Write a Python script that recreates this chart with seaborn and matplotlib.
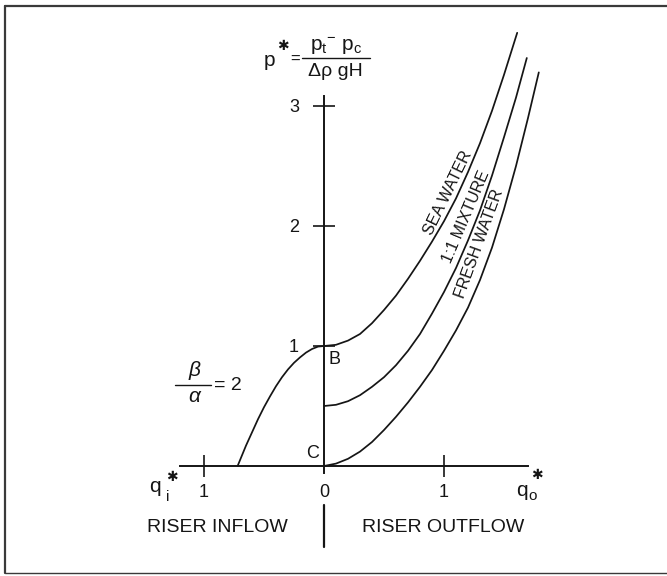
import numpy as np
import pandas as pd
import seaborn as sns
import matplotlib
matplotlib.use("Agg")
import matplotlib.pyplot as plt
from matplotlib.lines import Line2D

# ---------------- data ----------------
inflow_q = [0.0, 0.05, 0.1, 0.15, 0.2, 0.25, 0.3, 0.35, 0.4, 0.45, 0.5, 0.55, 0.6, 0.65, 0.72]  # q_i* (to the left)
inflow_p = [1.0, 0.995, 0.975, 0.945, 0.905, 0.86, 0.805, 0.74, 0.665, 0.58, 0.49, 0.39, 0.28, 0.17, 0.0]

sea_q = [0.0, 0.1, 0.2, 0.3, 0.4, 0.5, 0.6, 0.7, 0.8, 0.9, 1.0, 1.1, 1.2, 1.3, 1.4, 1.5, 1.61]
sea_p = [1.0, 1.01, 1.045, 1.10, 1.19, 1.30, 1.42, 1.56, 1.71, 1.87, 2.04, 2.23, 2.45, 2.69, 2.96, 3.26, 3.61]

mix_q = [0.0, 0.1, 0.2, 0.3, 0.4, 0.5, 0.6, 0.7, 0.8, 0.9, 1.0, 1.1, 1.2, 1.3, 1.4, 1.5, 1.6, 1.69]
mix_p = [0.5, 0.51, 0.54, 0.59, 0.66, 0.74, 0.84, 0.96, 1.10, 1.27, 1.45, 1.65, 1.88, 2.13, 2.42, 2.74, 3.07, 3.40]

fresh_q = [0.0, 0.1, 0.2, 0.3, 0.4, 0.5, 0.6, 0.7, 0.8, 0.9, 1.0, 1.1, 1.2, 1.3, 1.4, 1.5, 1.6, 1.7, 1.79]
fresh_p = [0.0, 0.02, 0.06, 0.12, 0.20, 0.30, 0.41, 0.53, 0.66, 0.80, 0.96, 1.13, 1.32, 1.55, 1.82, 2.14, 2.50, 2.90, 3.28]

curve_names = ["SEA WATER", "1:1 MIXTURE", "FRESH WATER"]
y_ticks = [1, 2, 3]
y_ticklabels = ["1", "2", "3"]
x_ticks = [-1, 0, 1]
x_ticklabels = ["1", "0", "1"]

# ---------------- build a long table ----------------
frames = [pd.DataFrame({"q": [-v for v in inflow_q], "p": inflow_p, "curve": "inflow"}),
          pd.DataFrame({"q": sea_q, "p": sea_p, "curve": "sea"}),
          pd.DataFrame({"q": mix_q, "p": mix_p, "curve": "mix"}),
          pd.DataFrame({"q": fresh_q, "p": fresh_p, "curve": "fresh"})]
df = pd.concat(frames, ignore_index=True)

sns.set_style("white")
plt.rcParams["font.family"] = ["Liberation Sans", "DejaVu Sans"]
plt.rcParams["mathtext.default"] = "regular"

W, H = 667, 576
fig = plt.figure(figsize=(W / 100, H / 100), dpi=100)
ax = fig.add_axes([0, 0, 1, 1])

# pixel geometry of the reference: origin at (324, 466), 120 px per unit
X0, Y0, U = 324.0, 466.0, 120.0
ax.set_xlim((0 - X0) / U, (W - X0) / U)
ax.set_ylim((Y0 - H) / U, (Y0 - 0) / U)

def px(x, y):
    return ((x - X0) / U, (Y0 - y) / U)

ink = "#151515"
for name, sub in df.groupby("curve", sort=False):
    sns.lineplot(data=sub, x="q", y="p", sort=False, estimator=None,
                 color=ink, linewidth=1.25, ax=ax, legend=False)

# axes as spines through the origin
for s in ["top", "right"]:
    ax.spines[s].set_visible(False)
ax.spines["left"].set_position(("data", 0))
ax.spines["bottom"].set_position(("data", 0))
ax.spines["left"].set_bounds(px(0, 473)[1], px(0, 96)[1])
ax.spines["bottom"].set_bounds(px(180, 0)[0], px(528, 0)[0])
for s in ["left", "bottom"]:
    ax.spines[s].set_linewidth(1.4)
    ax.spines[s].set_color(ink)
ax.set_xlabel("")
ax.set_ylabel("")

ax.set_yticks(y_ticks)
ax.set_yticklabels(y_ticklabels)
ax.set_xticks(x_ticks)
ax.set_xticklabels(x_ticklabels)
ax.tick_params(axis="both", direction="inout", length=16, width=1.2, color=ink,
               labelsize=13, labelcolor=ink, left=True, bottom=True)
ax.tick_params(axis="y", pad=10)
ax.tick_params(axis="x", pad=5)
ax.xaxis.get_major_ticks()[1].tick1line.set_visible(False)

# ---------------- annotations ----------------
tk = dict(color=ink, ha="center", va="center")
# axis title p* = (pt - pc)/(Δρ g H)
ax.text(*px(269, 61), "p", fontsize=15, **tk)
ax.text(*px(283, 46), "✱", fontsize=10, family=["DejaVu Sans"], **tk)
ax.text(*px(295, 59), "=", fontsize=12, **tk)
ax.text(*px(336, 46), "p$_t$$^{-}$ p$_c$", fontsize=15, **tk)
ax.add_line(Line2D([px(302, 0)[0], px(370, 0)[0]], [px(0, 57.5)[1]] * 2, color=ink, lw=1.0))
ax.text(*px(335, 72), "Δρ gH", fontsize=14, **tk)

# beta/alpha = 2
ax.text(*px(194, 370), "β", fontsize=15, style="italic", **tk)
ax.add_line(Line2D([px(175, 0)[0], px(211, 0)[0]], [px(0, 385)[1]] * 2, color=ink, lw=1.0))
ax.text(*px(194, 397), "α", fontsize=15, style="italic", **tk)
ax.text(*px(228, 385), "= 2", fontsize=14, **tk)

# point labels
ax.text(*px(335, 360), "B", fontsize=13, **tk)
ax.text(*px(313, 454), "C", fontsize=13, **tk)

# axis end labels
ax.text(*px(155, 487), "q", fontsize=15, **tk)
ax.text(*px(168, 497), "i", fontsize=11, **tk)
ax.text(*px(172, 477), "✱", fontsize=10, family=["DejaVu Sans"], **tk)
ax.text(*px(522, 490), "q", fontsize=15, **tk)
ax.text(*px(533, 496), "o", fontsize=11, **tk)
ax.text(*px(537, 475), "✱", fontsize=10, family=["DejaVu Sans"], **tk)

# bottom captions
ax.text(*px(217, 527), "RISER INFLOW", fontsize=14, **tk)
ax.text(*px(443, 527), "RISER OUTFLOW", fontsize=14, **tk)
ax.add_line(Line2D([0, 0], [px(0, 505)[1], px(0, 547)[1]], color=ink, lw=1.6))

# curve labels
ax.text(*px(448, 193), curve_names[0], fontsize=11.5, rotation=64, rotation_mode="anchor", **tk)
ax.text(*px(466, 217), curve_names[1], fontsize=11.5, rotation=67, rotation_mode="anchor", **tk)
ax.text(*px(479, 244), curve_names[2], fontsize=11.5, rotation=70, rotation_mode="anchor", **tk)

# outer frame
fc = "#3a3a3a"
fig.add_artist(Line2D([5 / W, 1.0], [1 - 6 / H] * 2, color=fc, lw=1.6))
fig.add_artist(Line2D([5 / W] * 2, [1 - 6 / H, 1 - 573 / H], color=fc, lw=1.6))
fig.add_artist(Line2D([5 / W, 1.0], [1 - 573 / H] * 2, color=fc, lw=1.0))

fig.savefig("out.png", dpi=100, facecolor="white")
